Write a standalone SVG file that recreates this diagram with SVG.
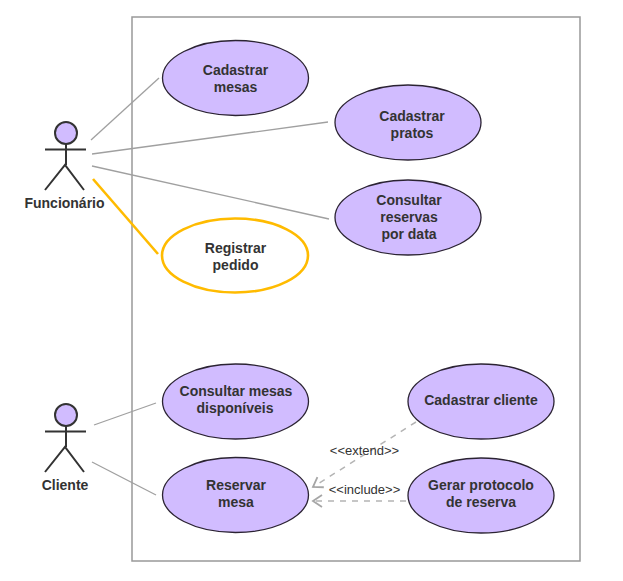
<svg xmlns="http://www.w3.org/2000/svg" width="623" height="581" viewBox="0 0 623 581">
<defs>
<marker id="open" markerUnits="userSpaceOnUse" markerWidth="14" markerHeight="16" refX="11" refY="8" orient="auto" viewBox="0 0 14 16"><path d="M2 2 L11 8 L2 14" fill="none" stroke="#a6a6a6" stroke-width="1.800"/></marker>
</defs>
<style>
text{font-family:"Liberation Sans",Arial,sans-serif;font-size:14px;font-weight:bold;fill:#333;text-anchor:middle}
.uc{fill:#d1bcff;stroke:#2b2333;stroke-width:1.3}
.head{fill:#d1bcff;stroke:#333;stroke-width:2}
.body{fill:none;stroke:#333;stroke-width:2}
.assoc{fill:none;stroke:#a0a0a0;stroke-width:1.3}
.dash{fill:none;stroke:#b4b4b4;stroke-width:1.5;stroke-dasharray:6 6;marker-end:url(#open)}
.lab{font-size:13px;font-weight:normal;fill:#333}
</style>
<rect id="system" x="132" y="17" width="448" height="544" fill="#fff" stroke="#999" stroke-width="1.5"/>
<g id="connectors">
<line class="assoc" x1="91" y1="140" x2="159" y2="78"/>
<line class="assoc" x1="92" y1="154" x2="328" y2="122"/>
<line class="assoc" x1="92" y1="166" x2="329" y2="219"/>
<line x1="93" y1="179" x2="158" y2="254" stroke="#ffbb00" stroke-width="2.6"/>
<line class="assoc" x1="94" y1="425" x2="156" y2="403"/>
<line class="assoc" x1="92" y1="462" x2="156" y2="495"/>
<line class="dash" x1="416" y1="422" x2="313" y2="487"/>
<line class="dash" x1="406" y1="501" x2="313" y2="501"/>
<text class="lab" x="364.500" y="455">&lt;&lt;extend&gt;&gt;</text>
<text class="lab" x="364.500" y="494">&lt;&lt;include&gt;&gt;</text>
</g>
<g id="actor-funcionario">
<circle class="head" cx="66" cy="133" r="11"/>
<path class="body" d="M66 144V165M45 149.500H86M45 190L65 165L84 190"/>
<text x="64.500" y="208">Funcionário</text>
</g>
<g id="actor-cliente">
<circle class="head" cx="66" cy="415" r="11"/>
<path class="body" d="M66 426V447M45 431.500H86M45 472L65 447L84 472"/>
<text x="65" y="490">Cliente</text>
</g>
<g id="uc-cadastrar-mesas"><ellipse class="uc" cx="235.500" cy="78" rx="73" ry="37.500"/><text x="235.500" y="75">Cadastrar</text><text x="235.500" y="92">mesas</text></g>
<g id="uc-cadastrar-pratos"><ellipse class="uc" cx="408" cy="122.500" rx="73" ry="37.500"/><text x="412" y="121">Cadastrar</text><text x="412" y="138">pratos</text></g>
<g id="uc-consultar-reservas"><ellipse class="uc" cx="408" cy="217.500" rx="73" ry="37.500"/><text x="409" y="205">Consultar</text><text x="409" y="222">reservas</text><text x="409" y="239">por data</text></g>
<g id="uc-registrar-pedido"><ellipse cx="235" cy="255.500" rx="73" ry="37" fill="#fff" stroke="#ffbb00" stroke-width="2.600"/><text x="235.500" y="253">Registrar</text><text x="235.500" y="270">pedido</text></g>
<g id="uc-consultar-mesas"><ellipse class="uc" cx="235.500" cy="401.500" rx="73" ry="37.500"/><text x="236" y="396">Consultar mesas</text><text x="235" y="413">disponíveis</text></g>
<g id="uc-reservar-mesa"><ellipse class="uc" cx="235.500" cy="495" rx="73" ry="37.500"/><text x="236" y="490">Reservar</text><text x="236" y="507">mesa</text></g>
<g id="uc-cadastrar-cliente"><ellipse class="uc" cx="481" cy="401.500" rx="73" ry="37.500"/><text x="481" y="405">Cadastrar cliente</text></g>
<g id="uc-gerar-protocolo"><ellipse class="uc" cx="481" cy="495.500" rx="73" ry="37.500"/><text x="481" y="490">Gerar protocolo</text><text x="481" y="507">de reserva</text></g>
</svg>
